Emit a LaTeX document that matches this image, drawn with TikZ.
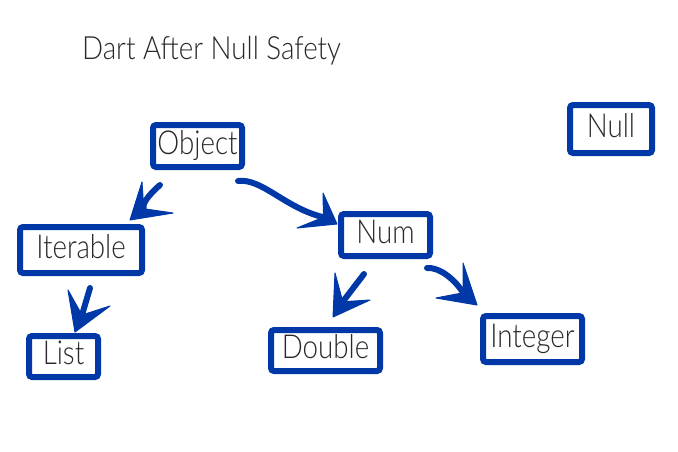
\documentclass[tikz,border=0pt]{standalone}
\usepackage{fontspec}
\setmainfont{Lato Light}
\usetikzlibrary{calc}
\definecolor{boxblue}{RGB}{0,56,168}
\definecolor{ink}{RGB}{40,40,40}
\newcommand\sx[1]{\scalebox{0.84}[1]{#1}}
\newcommand\ahead[4]{%
  \coordinate (#4-m) at ($(#2)!0.5!(#3)$);
  \coordinate (#4) at ($(#1)!0.5!(#4-m)$);
  \fill[boxblue, draw=boxblue, line width=1pt, line join=round] (#1) -- (#2) -- (#4) -- (#3) -- cycle;}
\begin{document}
\begin{tikzpicture}[x=1pt,y=-1pt,
  cls/.style={draw=boxblue, line width=6pt, rounded corners=3pt, fill=white, inner sep=0pt,
    font=\fontsize{33}{33}\selectfont, text=ink, text height=23pt, text depth=7pt},
  shaft/.style={draw=boxblue, line width=6pt, line cap=round}]
\useasboundingbox (0,0) rectangle (678,451);
\node[font=\fontsize{32}{32}\selectfont, text=ink, anchor=base, inner sep=0pt] (title) at (211.5,59) {\scalebox{0.867}[1]{Dart After Null Safety}};
\node[cls, minimum width=89pt, minimum height=42pt] (obj) at (197.5,146) {\sx{Object}};
\node[cls, minimum width=122pt, minimum height=46pt] (itr) at (81,250) {\sx{Iterable}};
\node[cls, minimum width=69pt, minimum height=41pt] (lst) at (63.5,356.5) {\sx{List}};
\node[cls, minimum width=89pt, minimum height=42pt] (num) at (385.5,235) {\sx{Num}};
\node[cls, minimum width=109pt, minimum height=41pt] (dbl) at (325.5,350.5) {\sx{Double}};
\node[cls, minimum width=99pt, minimum height=46pt] (int) at (532.5,339) {\sx{Integer}};
\node[cls, minimum width=82pt, minimum height=48pt] (nul) at (611,129) {\sx{Null}};
% Object -> Iterable
\coordinate (a1s) at (160,185); \coordinate (a1t) at (130,220);
\coordinate (a1w) at (142,182); \coordinate (a1v) at (173,213);
\ahead{a1t}{a1w}{a1v}{a1c}
\draw[shaft] (a1s) .. controls (153,191) and (141,203) .. (a1c);
% Object -> Num
\coordinate (a2s) at (238,181); \coordinate (a2t) at (337,224);
\coordinate (a2w) at (323,193); \coordinate (a2v) at (297,228);
\ahead{a2t}{a2w}{a2v}{a2c}
\draw[shaft] (a2s) .. controls (262,178) and (285,208) .. (a2c);
% Iterable -> List
\coordinate (a3s) at (90,288); \coordinate (a3t) at (75,332);
\coordinate (a3w) at (68,290); \coordinate (a3v) at (110,306);
\ahead{a3t}{a3w}{a3v}{a3c}
\draw[shaft] (a3s) -- (a3c);
% Num -> Double
\coordinate (a4s) at (364,274); \coordinate (a4t) at (333,317);
\coordinate (a4w) at (335,273); \coordinate (a4v) at (370,300);
\ahead{a4t}{a4w}{a4v}{a4c}
\draw[shaft] (a4s) -- (a4c);
% Num -> Integer
\coordinate (a5s) at (427,268); \coordinate (a5t) at (477,305);
\coordinate (a5w) at (463,263); \coordinate (a5v) at (436,298);
\ahead{a5t}{a5w}{a5v}{a5c}
\draw[shaft] (a5s) .. controls (440,267) and (455,280) .. (a5c);
\end{tikzpicture}
\end{document}
